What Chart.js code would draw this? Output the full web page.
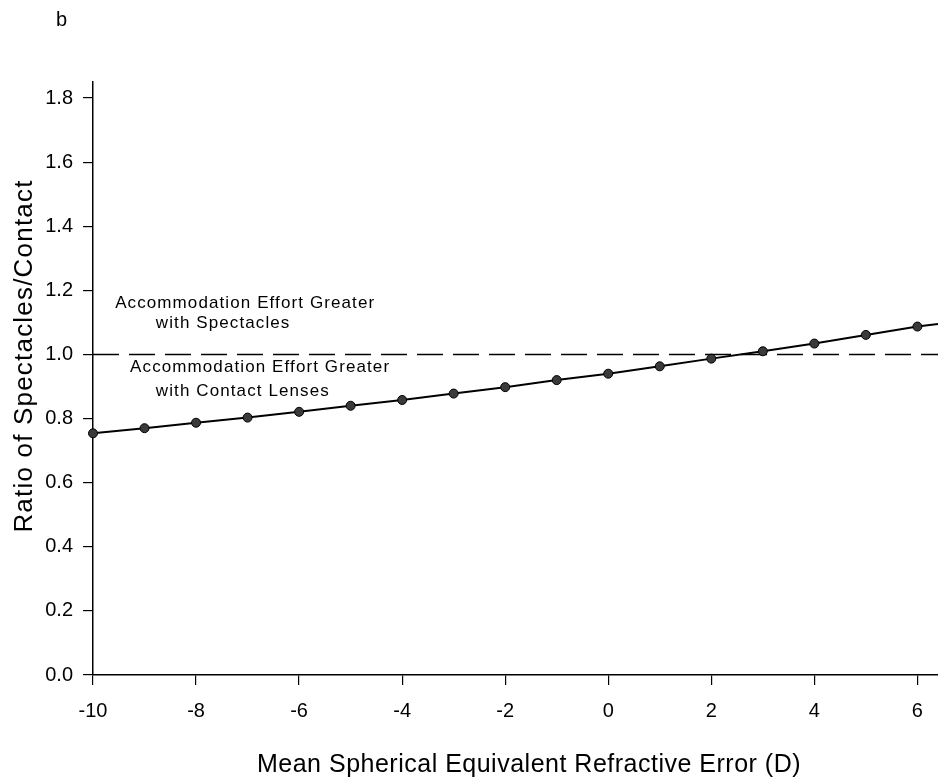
<!DOCTYPE html>
<html>
<head>
<meta charset="utf-8">
<script src="https://cdn.jsdelivr.net/npm/chart.js@4.4.1/dist/chart.umd.min.js"></script>
<style>
    body { margin: 0; background: #fff; }
    canvas { display: block; }
</style>
</head>
<body>
<canvas id="ratioChart" width="938" height="782"></canvas>
<script>
// refractive error (D) and spectacle/contact accommodation ratio
const refractiveError = [-10, -9, -8, -7, -6, -5, -4, -3, -2, -1, 0, 1, 2, 3, 4, 5, 6];
const ratio = [0.754, 0.770, 0.787, 0.803, 0.821, 0.840, 0.858, 0.878, 0.898, 0.920, 0.940, 0.963, 0.987, 1.010, 1.034, 1.061, 1.087];
// the curve runs on past the last marker to the edge of the plot
const tailError = [6.4];
const tailRatio = [1.095];
const referenceError = [-10, 6.4];
const referenceRatio = [1.0, 1.0];
const xTicks = [-10, -8, -6, -4, -2, 0, 2, 4, 6];
const yTicks = [0.0, 0.2, 0.4, 0.6, 0.8, 1.0, 1.2, 1.4, 1.6, 1.8];
const regionNotes = [
    { text: 'Accommodation Effort Greater', x: -9.57, y: 1.16 },
    { text: 'with Spectacles', x: -8.78, y: 1.097 },
    { text: 'Accommodation Effort Greater', x: -9.28, y: 0.96 },
    { text: 'with Contact Lenses', x: -8.78, y: 0.886 }
];

const fontFamily = '"Liberation Sans", Arial, Helvetica, sans-serif';

const curvePoints = refractiveError.map((x, i) => ({ x, y: ratio[i] }))
    .concat(tailError.map((x, i) => ({ x, y: tailRatio[i] })));
const referencePoints = referenceError.map((x, i) => ({ x, y: referenceRatio[i] }));

// text that isn't part of the axes: panel letter, axis titles, region notes
const textPlugin = {
    id: 'figureText',
    afterDraw(chart) {
        const ctx = chart.ctx;
        const xs = chart.scales.x;
        const ys = chart.scales.y;
        ctx.save();
        ctx.fillStyle = '#000';
        ctx.textBaseline = 'middle';

        ctx.font = '20px ' + fontFamily;
        ctx.textAlign = 'left';
        ctx.fillText('b', 56, 20);

        // the scanned lettering is a little wider than Arial
        ctx.font = '17px ' + fontFamily;
        ctx.letterSpacing = '1.1px';
        regionNotes.forEach(note => {
            ctx.fillText(note.text, xs.getPixelForValue(note.x), ys.getPixelForValue(note.y));
        });

        ctx.font = '25px ' + fontFamily;
        ctx.letterSpacing = '0.5px';
        ctx.textAlign = 'center';
        ctx.fillText('Mean Spherical Equivalent Refractive Error (D)', 529, 765);

        ctx.font = '26px ' + fontFamily;
        ctx.letterSpacing = '1.2px';
        ctx.translate(25, 356);
        ctx.rotate(-Math.PI / 2);
        ctx.fillText('Ratio of Spectacles/Contact', 0, 0);
        ctx.letterSpacing = '0px';
        ctx.restore();
    }
};

new Chart(document.getElementById('ratioChart'), {
    type: 'line',
    data: {
        datasets: [
            {
                data: curvePoints,
                borderColor: '#000',
                borderWidth: 2,
                pointRadius: ctx => ctx.dataIndex < refractiveError.length ? 4.5 : 0,
                pointBackgroundColor: '#3a3a3a',
                pointBorderColor: '#000',
                pointBorderWidth: 1,
                tension: 0,
                clip: false
            },
            {
                data: referencePoints,
                borderColor: '#000',
                borderWidth: 1.5,
                borderDash: [26, 10],
                pointRadius: 0,
                tension: 0
            }
        ]
    },
    options: {
        responsive: false,
        devicePixelRatio: 1,
        animation: false,
        layout: { autoPadding: false, padding: { top: 82, right: 0, left: 0, bottom: 0 } },
        plugins: {
            legend: { display: false },
            tooltip: { enabled: false }
        },
        scales: {
            x: {
                type: 'linear',
                min: -10,
                max: 6.4,
                afterFit: scale => {
                    scale.height = 107;
                    scale.paddingLeft = 0;
                    scale.paddingRight = 0;
                },
                afterBuildTicks: scale => { scale.ticks = xTicks.map(v => ({ value: v })); },
                border: { display: true, color: '#000', width: 1.5 },
                grid: { drawOnChartArea: false, drawTicks: true, tickLength: 10, color: '#000', lineWidth: 1.2 },
                ticks: {
                    color: '#000',
                    padding: 14,
                    font: { family: fontFamily, size: 20 },
                    callback: v => String(v)
                }
            },
            y: {
                min: 0,
                max: 1.85,
                afterFit: scale => { scale.width = 93; },
                afterBuildTicks: scale => { scale.ticks = yTicks.map(v => ({ value: v })); },
                border: { display: true, color: '#000', width: 1.5 },
                grid: { drawOnChartArea: false, drawTicks: true, tickLength: 10, color: '#000', lineWidth: 1.2 },
                ticks: {
                    color: '#000',
                    padding: 10,
                    font: { family: fontFamily, size: 20 },
                    callback: v => v.toFixed(1)
                }
            }
        }
    },
    plugins: [textPlugin]
});
</script>
</body>
</html>
